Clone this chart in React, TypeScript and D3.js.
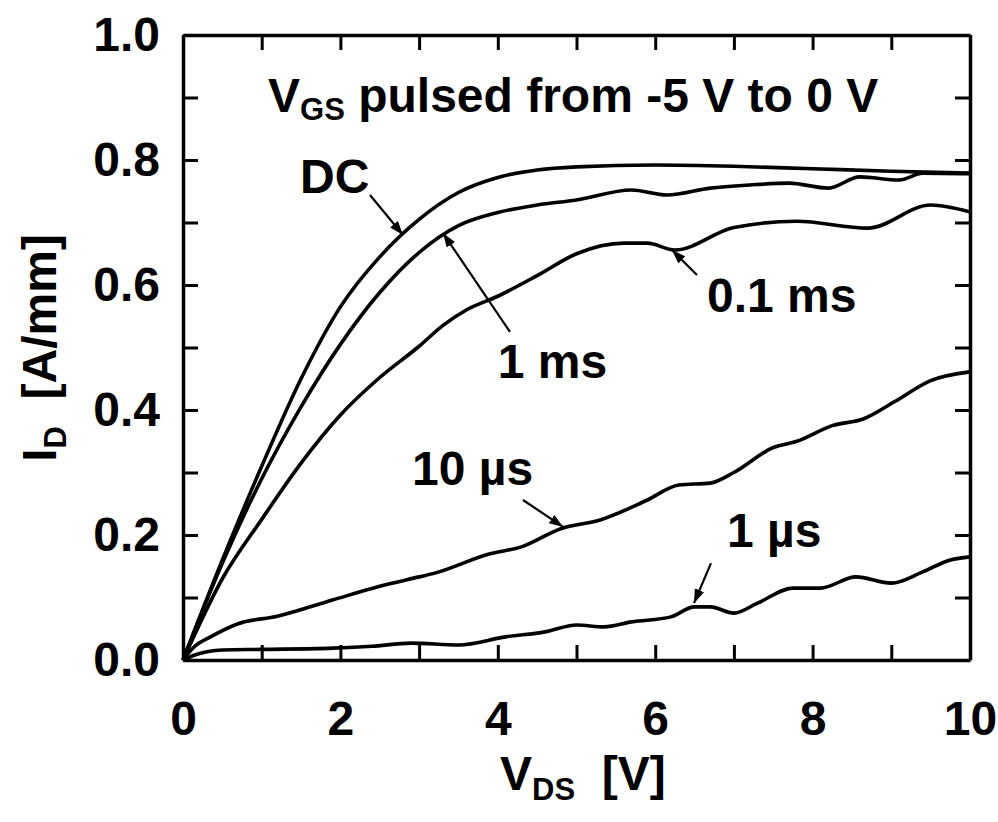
import React, { useEffect, useRef } from 'react';
import * as d3 from 'd3';

const W = 998;
const H = 822;

// Drain voltage ticks and current ticks
const xTickValues = [0, 1, 2, 3, 4, 5, 6, 7, 8, 9, 10];
const yTickValues = [0, 0.1, 0.2, 0.3, 0.4, 0.5, 0.6, 0.7, 0.8, 0.9, 1.0];

// DC
const dcV = [0, 0.5, 1.0, 1.5, 2.0, 2.5, 3.0, 3.5, 4.0, 4.5, 5.0, 6.0, 7.0, 8.0, 9.0, 10];
const dcI = [0, 0.16, 0.31, 0.45, 0.565, 0.645, 0.705, 0.748, 0.772, 0.784, 0.789, 0.792, 0.79, 0.786, 0.782, 0.779];

// 1 ms
const ms1V = [0, 0.5, 1.0, 1.5, 2.0, 2.5, 3.0, 3.5, 4.0, 4.5, 5.0, 5.7, 6.15, 6.7, 7.2, 7.7, 8.2, 8.6, 9.1, 9.4, 10];
const ms1I = [0, 0.155, 0.29, 0.405, 0.505, 0.588, 0.652, 0.695, 0.716, 0.728, 0.736, 0.752, 0.744, 0.755, 0.76, 0.763, 0.755, 0.773, 0.768, 0.779, 0.778];

// 0.1 ms
const ms01V = [0, 0.5, 1.0, 1.5, 2.0, 2.5, 3.0, 3.3, 3.6, 4.0, 4.5, 5.0, 5.6, 5.9, 6.25, 7.0, 7.8, 8.7, 9.5, 10];
const ms01I = [0, 0.13, 0.225, 0.315, 0.392, 0.452, 0.502, 0.535, 0.56, 0.582, 0.615, 0.65, 0.667, 0.667, 0.656, 0.692, 0.702, 0.691, 0.728, 0.717];

// 10 us
const us10V = [0, 0.15, 0.35, 0.7, 1.2, 1.9, 2.5, 3.0, 3.2, 3.9, 4.3, 4.8, 5.3, 5.9, 6.3, 6.7, 7.0, 7.5, 7.8, 8.25, 8.65, 9.05, 9.5, 10];
const us10I = [0, 0.022, 0.037, 0.058, 0.07, 0.096, 0.118, 0.133, 0.139, 0.17, 0.181, 0.21, 0.224, 0.256, 0.28, 0.283, 0.3, 0.34, 0.35, 0.375, 0.386, 0.414, 0.447, 0.461];

// 1 us
const us1V = [0, 0.15, 0.5, 1.0, 1.9, 2.4, 2.9, 3.5, 4.1, 4.6, 5.0, 5.35, 5.7, 6.2, 6.5, 6.7, 7.0, 7.3, 7.75, 8.1, 8.55, 9.0, 9.4, 9.75, 10];
const us1I = [0, 0.008, 0.016, 0.017, 0.019, 0.022, 0.027, 0.024, 0.037, 0.045, 0.056, 0.053, 0.061, 0.069, 0.085, 0.085, 0.075, 0.091, 0.115, 0.115, 0.133, 0.123, 0.141, 0.16, 0.165];

const seriesNames = ['DC', '1 ms', '0.1 ms', '10 µs', '1 µs'];
const seriesV = [dcV, ms1V, ms01V, us10V, us1V];
const seriesI = [dcI, ms1I, ms01I, us10I, us1I];

// annotation labels (text, label anchor in data units, arrow start, arrow tip)
const annText = ['DC', '1 ms', '0.1 ms', '10 µs', '1 µs'];
const annLabelV = [1.487, 4.0, 6.658, 2.91, 6.912];
const annLabelI = [0.747, 0.451, 0.557, 0.28, 0.181];
const annFromV = [2.376, 4.155, 6.531, 4.32, 6.709];
const annFromI = [0.744, 0.525, 0.616, 0.256, 0.155];
const annToV = [2.795, 3.304, 6.213, 4.83, 6.493];
const annToI = [0.68, 0.683, 0.656, 0.213, 0.091];

const FONT = '"Liberation Sans", Arial, Helvetica, sans-serif';

export default function App() {
  const ref = useRef<SVGSVGElement | null>(null);

  useEffect(() => {
    const svg = d3.select(ref.current);
    svg.selectAll('*').remove();

    const x = d3.scaleLinear().domain([0, 10]).range([183, 970]);
    const y = d3.scaleLinear().domain([0, 1]).range([660, 35]);

    const defs = svg.append('defs');
    defs
      .append('marker')
      .attr('id', 'arrowhead')
      .attr('markerUnits', 'userSpaceOnUse')
      .attr('viewBox', '0 0 14 10')
      .attr('refX', 14)
      .attr('refY', 5)
      .attr('markerWidth', 14)
      .attr('markerHeight', 10)
      .attr('orient', 'auto')
      .append('path')
      .attr('d', 'M0,0 L14,5 L0,10 Z')
      .attr('fill', '#000');

    const styleAxis = (g: any) => {
      g.attr('font-family', FONT).attr('font-size', 48).attr('font-weight', 'bold');
      g.select('.domain').attr('stroke', '#000').attr('stroke-width', 3.5);
      g.selectAll('.tick line').attr('stroke', '#000').attr('stroke-width', 3);
      g.selectAll('.tick text').attr('fill', '#000');
    };

    const fmtX = (d: any) => (d % 2 === 0 ? String(d) : '');
    const fmtY = (d: any) => (Math.round(d * 10) % 2 === 0 ? d3.format('.1f')(d) : '');

    svg
      .append('g')
      .attr('transform', 'translate(0,660)')
      .call(d3.axisBottom(x).tickValues(xTickValues).tickSizeInner(-15).tickSizeOuter(0).tickPadding(41).tickFormat(fmtX as any))
      .call(styleAxis);
    svg
      .append('g')
      .attr('transform', 'translate(0,35)')
      .call(d3.axisTop(x).tickValues(xTickValues).tickSizeInner(-15).tickSizeOuter(0).tickFormat(() => ''))
      .call(styleAxis);
    svg
      .append('g')
      .attr('transform', 'translate(183,0)')
      .call(d3.axisLeft(y).tickValues(yTickValues).tickSizeInner(-15).tickSizeOuter(0).tickPadding(23).tickFormat(fmtY as any))
      .call(styleAxis);
    svg
      .append('g')
      .attr('transform', 'translate(970,0)')
      .call(d3.axisRight(y).tickValues(yTickValues).tickSizeInner(-15).tickSizeOuter(0).tickFormat(() => ''))
      .call(styleAxis);

    // curves
    const line = d3
      .line<[number, number]>()
      .x((d) => x(d[0]))
      .y((d) => y(d[1]))
      .curve(d3.curveMonotoneX);

    seriesNames.forEach((name, k) => {
      const pts: [number, number][] = seriesV[k].map((v, i) => [v, seriesI[k][i]]);
      svg
        .append('path')
        .attr('d', line(pts) as string)
        .attr('fill', 'none')
        .attr('stroke', '#000')
        .attr('stroke-width', 3.6)
        .attr('stroke-linejoin', 'round')
        .attr('data-name', name);
    });

    // annotations
    annText.forEach((t, k) => {
      svg
        .append('line')
        .attr('x1', x(annFromV[k]))
        .attr('y1', y(annFromI[k]))
        .attr('x2', x(annToV[k]))
        .attr('y2', y(annToI[k]))
        .attr('stroke', '#000')
        .attr('stroke-width', 2.2)
        .attr('marker-end', 'url(#arrowhead)');
      svg
        .append('text')
        .attr('x', x(annLabelV[k]))
        .attr('y', y(annLabelI[k]))
        .attr('font-family', FONT)
        .attr('font-size', 48)
        .attr('font-weight', 'bold')
        .attr('fill', '#000')
        .text(t);
    });

    // header
    const hdr = svg
      .append('text')
      .attr('x', 268)
      .attr('y', 112)
      .attr('font-family', FONT)
      .attr('font-size', 48)
      .attr('font-weight', 'bold')
      .attr('fill', '#000');
    hdr.append('tspan').text('V');
    hdr.append('tspan').attr('font-size', 31).attr('dy', 8).text('GS');
    hdr.append('tspan').attr('dy', -8).text(' pulsed from -5 V to 0 V');

    // x title
    const xt = svg
      .append('text')
      .attr('x', 500)
      .attr('y', 790)
      .attr('font-family', FONT)
      .attr('font-size', 48)
      .attr('font-weight', 'bold')
      .attr('fill', '#000')
      .style('white-space', 'pre');
    xt.append('tspan').text('V');
    xt.append('tspan').attr('font-size', 31).attr('dy', 10).text('DS');
    xt.append('tspan').attr('dy', -10).text('  [V]');

    // y title
    const yt = svg
      .append('text')
      .attr('transform', 'translate(56,348) rotate(-90)')
      .attr('text-anchor', 'middle')
      .attr('font-family', FONT)
      .attr('font-size', 48)
      .attr('font-weight', 'bold')
      .attr('fill', '#000')
      .style('white-space', 'pre');
    yt.append('tspan').text('I');
    yt.append('tspan').attr('font-size', 31).attr('dy', 10).text('D');
    yt.append('tspan').attr('dy', -10).text('  [A/mm]');
  }, []);

  return (
    <svg
      ref={ref}
      width={W}
      height={H}
      viewBox={`0 0 ${W} ${H}`}
      style={{ position: 'absolute', left: 0, top: 0, background: '#fff' }}
    />
  );
}
